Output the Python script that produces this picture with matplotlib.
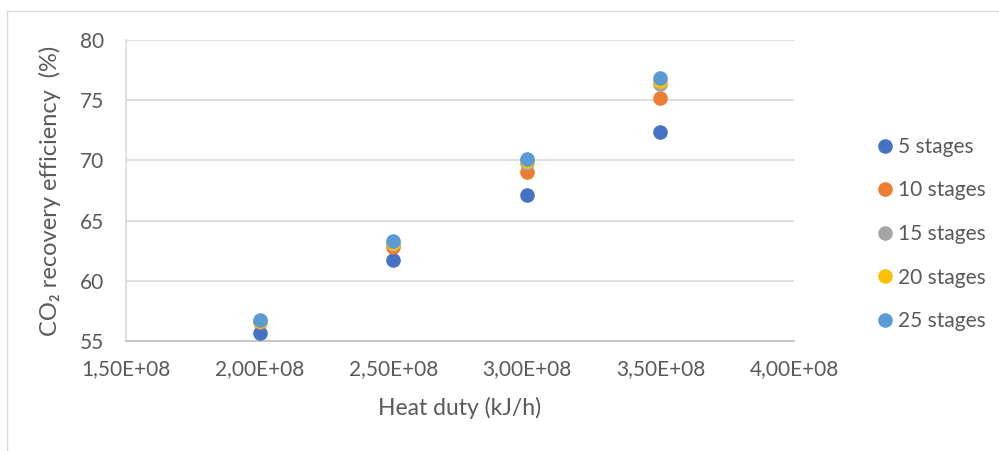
import matplotlib
matplotlib.use("Agg")
import matplotlib.pyplot as plt
from matplotlib.lines import Line2D
from matplotlib.ticker import FixedLocator

heat_duty = [2.0e8, 2.5e8, 3.0e8, 3.5e8]
series_labels = ["5 stages", "10 stages", "15 stages", "20 stages", "25 stages"]
eff_5 = [55.7, 61.7, 67.1, 72.4]
eff_10 = [56.55, 62.8, 69.05, 75.2]
eff_15 = [56.65, 63.05, 69.8, 76.35]
eff_20 = [56.7, 63.15, 69.95, 76.6]
eff_25 = [56.75, 63.3, 70.1, 76.85]
series_values = [eff_5, eff_10, eff_15, eff_20, eff_25]
colors = ["#4472C4", "#ED7D31", "#A5A5A5", "#FFC000", "#5B9BD5"]
x_ticks = [1.5e8, 2.0e8, 2.5e8, 3.0e8, 3.5e8, 4.0e8]
x_tick_labels = ["1,50E+08", "2,00E+08", "2,50E+08", "3,00E+08", "3,50E+08", "4,00E+08"]
y_ticks = [55, 60, 65, 70, 75, 80]

plt.rcParams['font.family'] = ['Lato', 'DejaVu Sans']
txt = "#595959"

fig = plt.figure(figsize=(9.99, 4.51), dpi=100)
ax = fig.add_axes([126/999, 1-341/451, (794-126)/999, (341-40)/451])

for vals, c, lab in zip(series_values, colors, series_labels):
    ax.plot(heat_duty, vals, linestyle='none', marker='o', markersize=10.5,
            color=c, markeredgewidth=0, label=lab, zorder=3)

ax.set_xlim(1.5e8, 4.0e8)
ax.set_ylim(55, 80)
ax.xaxis.set_major_locator(FixedLocator(x_ticks))
ax.set_xticklabels(x_tick_labels)
ax.set_yticks(y_ticks)
ax.tick_params(axis='both', length=0, labelsize=15, colors=txt)
ax.tick_params(axis='y', pad=16)
ax.tick_params(axis='x', pad=13)
ax.grid(axis='y', color='#d9d9d9', linewidth=1.2)
ax.set_axisbelow(True)
for s in ['top', 'right']:
    ax.spines[s].set_visible(False)
ax.spines['left'].set_color('#d9d9d9')
ax.spines['left'].set_linewidth(1.2)
ax.spines['bottom'].set_color('#bfbfbf')
ax.spines['bottom'].set_linewidth(1.2)

ax.set_xlabel("Heat duty (kJ/h)", fontsize=16.5, color=txt, labelpad=13)
ax.set_ylabel("CO₂ recovery efficiency  (%)", fontsize=17, color=txt, labelpad=13)

leg = fig.legend(loc='center left', bbox_to_anchor=(855/999, 1-234/451), frameon=False,
                 fontsize=15, labelcolor=txt, handletextpad=0.05, labelspacing=1.13,
                 handlelength=1.1, markerscale=1.0)

# chart border (top and left visible)
fig.add_artist(Line2D([7/999, 1], [1-11/451, 1-11/451], color='#d9d9d9', linewidth=1.0,
                      transform=fig.transFigure))
fig.add_artist(Line2D([7/999, 7/999], [0, 1-11/451], color='#d9d9d9', linewidth=1.0,
                      transform=fig.transFigure))

fig.savefig("out.png", dpi=100)
